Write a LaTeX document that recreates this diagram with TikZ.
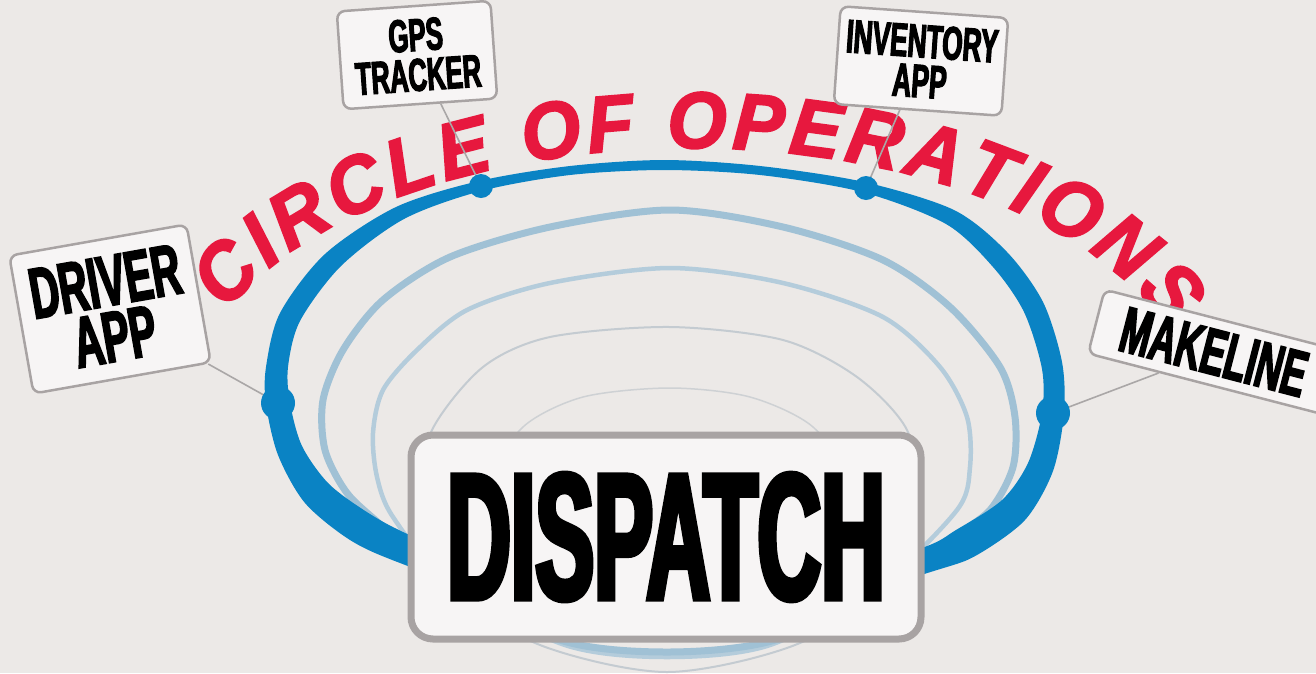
\documentclass[tikz,border=0pt]{standalone}
\usepackage{fontspec}
\newfontfamily\tagfont{Liberation Sans Bold}[FakeStretch=0.56,FakeBold=2.5]
\newfontfamily\hubfont{Liberation Sans Bold}[FakeStretch=0.49,FakeBold=3]
\newfontfamily\arcfont{Liberation Sans Bold Italic}[FakeStretch=0.95,FakeBold=2.5]
\usepackage{tikz}
\usetikzlibrary{decorations.text}

\definecolor{bgpaper}{RGB}{236,233,231}
\definecolor{ringblue}{RGB}{10,131,196}
\definecolor{ringpale}{RGB}{160,193,213}
\definecolor{ringpaler}{RGB}{180,204,219}
\definecolor{ringgray}{RGB}{196,203,209}
\definecolor{ringgrayer}{RGB}{206,209,212}
\definecolor{tagline}{RGB}{168,163,163}
\definecolor{tagfill}{RGB}{247,245,245}
\definecolor{opsred}{RGB}{231,24,62}
\definecolor{wiregray}{RGB}{170,167,167}

\tikzset{
  tag/.style={draw=tagline, fill=tagfill, line width=2.5pt, rounded corners=8pt, align=center, inner sep=0pt},
  hub/.style={draw=tagline, fill=tagfill, line width=7pt, rounded corners=22pt, inner sep=0pt, font=\hubfont\fontsize{180}{180}\selectfont},
  wire/.style={draw=wiregray, line width=1.6pt},
  dot/.style={fill=ringblue},
}

\begin{document}
\begin{tikzpicture}[x=1pt,y=-1pt]
\fill[bgpaper] (0,0) rectangle (1316,673);
\clip (0,0) rectangle (1316,673);

% red title along the outer arc
\path[decorate, decoration={text along path, text align=fit to path, text color=opsred,
  text={|\arcfont\fontsize{80}{80}\selectfont|CIRCLE OF OPERATIONS}}]
  (690,410) ++(-158:500 and 262) arc[start angle=-158, end angle=-18, x radius=500, y radius=262];

% inner rings of the funnel
\draw[ringgrayer, line width=1.5pt] plot[smooth cycle] coordinates {(670,388) (583,397) (523,427) (495,480) (520,580) (667,635) (815,580) (843,480) (813,427) (750,397)};
\draw[ringgray, line width=2pt] plot[smooth cycle] coordinates {(670,327) (550,337) (483,367) (432,430) (418,500) (445,585) (540,645) (667,672) (795,645) (890,585) (918,500) (907,430) (857,377) (783,340)};
\draw[ringpaler, line width=4.5pt] plot[smooth cycle] coordinates {(670,268) (550,283) (467,310) (417,350) (383,390) (373,433) (377,477) (393,517) (450,585) (565,645) (667,657) (770,645) (880,585) (957,510) (970,467) (967,417) (940,367) (883,317) (783,283)};
\draw[ringpale, line width=7pt] plot[smooth cycle] coordinates {(670,210) (550,227) (450,257) (383,300) (343,350) (323,400) (325,450) (347,493) (383,527) (440,580) (560,640) (667,652) (775,640) (895,585) (950,540) (990,510) (1013,467) (1015,417) (1000,367) (950,307) (883,260) (783,227)};

% outer blue ring
\fill[ringblue, even odd rule]
  plot[smooth cycle] coordinates {(664,160) (570,166) (479,181) (396,207) (325,254) (280,313) (266,367) (266,404) (278,455) (305,503) (350,540) (400,563) (520,605) (664,625) (808,607) (937,570) (977,555) (1025,520) (1053,471) (1064,413) (1062,362) (1043,302) (1007,252) (954,210) (864,182) (760,166)}
  plot[smooth cycle] coordinates {(664,170) (570,175) (481,191) (404,219) (341,266) (300,321) (288,367) (290,403) (302,446) (329,484) (370,514) (414,537) (530,585) (664,598) (800,587) (922,548) (956,530) (1002,500) (1028,463) (1042,413) (1042,369) (1024,312) (993,267) (946,224) (862,192) (760,175)};

\coordinate (gpsdot) at (481,186);
\coordinate (invdot) at (866,188);
\coordinate (drvdot) at (278,403);
\coordinate (mkldot) at (1053,413);

% tags
\node[tag, rotate=4, minimum width=154pt, minimum height=98pt, font=\tagfont\fontsize{46}{40}\selectfont] (gps) at (417,55) {GPS\\TRACKER};
\node[tag, rotate=-4, minimum width=168pt, minimum height=98pt, font=\tagfont\fontsize{47}{40}\selectfont] (inv) at (921,61) {INVENTORY\\APP};
\node[tag, rotate=10, minimum width=180pt, minimum height=140pt, font=\tagfont\fontsize{72}{56}\selectfont] (drv) at (110,309) {DRIVER\\APP};
\node[tag, rotate=-14.5, minimum width=243pt, minimum height=66pt, font=\tagfont\fontsize{65}{65}\selectfont] (mkl) at (1214,352) {MAKELINE};
\node[hub, minimum width=510pt, minimum height=204pt] (hub) at (666,537) {DISPATCH};

% wires to the ring
\draw[wire] (gps) -- (gpsdot);
\draw[wire] (inv) -- (invdot);
\draw[wire] (drv) -- (drvdot);
\draw[wire] (mkl) -- (mkldot);

\fill[dot] (gpsdot) circle (12pt);
\fill[dot] (invdot) circle (12pt);
\fill[dot] (drvdot) circle (17pt);
\fill[dot] (mkldot) circle (17pt);
\end{tikzpicture}
\end{document}
